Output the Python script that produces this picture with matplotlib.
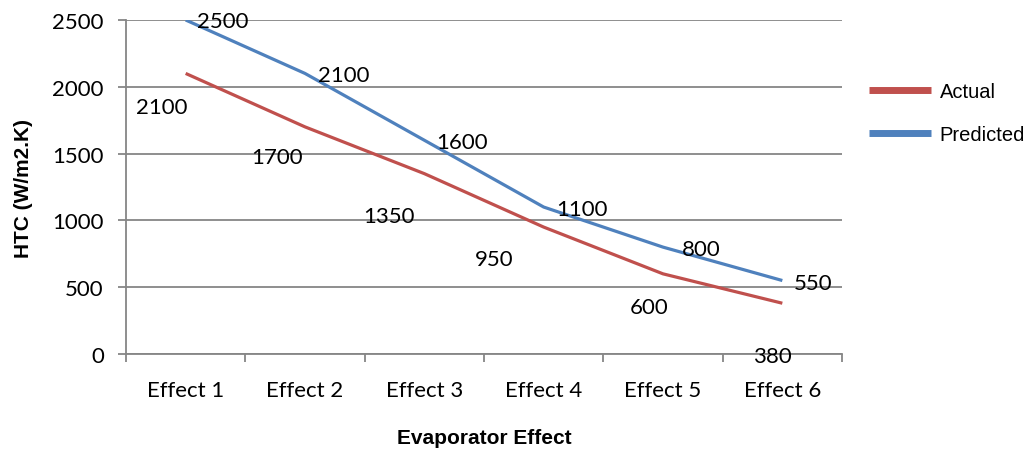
import matplotlib
matplotlib.use("Agg")
import matplotlib.pyplot as plt

categories = ["Effect 1", "Effect 2", "Effect 3", "Effect 4", "Effect 5", "Effect 6"]
actual = [2100, 1700, 1350, 950, 600, 380]
predicted = [2500, 2100, 1600, 1100, 800, 550]
y_ticks = [0, 500, 1000, 1500, 2000, 2500]

# label offsets (pixels -> points at dpi 100), styling only
act_off = [(-24, -34), (-28, -30), (-35, -42), (-49, -32), (-14, -33), (-10, -53)]
pred_off = [(37, -1), (39, -2), (38, -2), (38, -2), (38, -2), (31, -2)]

RED = "#C0504D"
BLUE = "#4F81BD"
GRID = "#868686"
tick_font = "Lato"
ax_font = "Liberation Sans"
FS = 16

fig = plt.figure(figsize=(10.27, 4.52), dpi=100)
ax = fig.add_axes([126/1027, 1-355/452, (842-126)/1027, (355-21)/452])

x = list(range(len(categories)))
ax.plot(x, actual, color=RED, lw=2.3, label="Actual", solid_capstyle="butt", zorder=3)
ax.plot(x, predicted, color=BLUE, lw=2.3, label="Predicted", solid_capstyle="butt", zorder=3)

px2pt = 72/100
for i, v in enumerate(actual):
    dx, dy = act_off[i]
    ax.annotate(str(v), (x[i], v), xytext=(dx*px2pt, dy*px2pt), textcoords="offset points",
                ha="center", va="center", fontsize=FS, family=tick_font, color="black",
                annotation_clip=False, zorder=4)
for i, v in enumerate(predicted):
    dx, dy = pred_off[i]
    ax.annotate(str(v), (x[i], v), xytext=(dx*px2pt, dy*px2pt), textcoords="offset points",
                ha="center", va="center", fontsize=FS, family=tick_font, color="black",
                annotation_clip=False, zorder=4)

ax.set_xlim(-0.5, len(categories)-0.5)
ax.set_ylim(0, 2500)
ax.set_yticks(y_ticks)
ax.set_yticklabels([str(t) for t in y_ticks], fontsize=FS, family=tick_font)
ax.set_xticks(x)
ax.set_xticklabels(categories, fontsize=FS, family=tick_font)
ax.set_xticks([i-0.5 for i in range(len(categories)+1)], minor=True)
ax.tick_params(axis="x", which="major", length=0, pad=19)
ax.tick_params(axis="x", which="minor", length=6, width=1.3, color=GRID, direction="out")
ax.tick_params(axis="y", length=6, width=1.3, color=GRID, direction="out", pad=10)

ax.grid(axis="y", color=GRID, lw=1.3)
ax.set_axisbelow(True)
for s in ["top", "right"]:
    ax.spines[s].set_visible(False)
for s in ["left", "bottom"]:
    ax.spines[s].set_color(GRID)
    ax.spines[s].set_linewidth(1.3)

ax.set_xlabel("Evaporator Effect", fontsize=15, family=ax_font, fontweight="bold", labelpad=20)
ax.set_ylabel("HTC (W/m2.K)", fontsize=15, family=ax_font, fontweight="bold", labelpad=14)

leg = fig.legend(loc="center left", bbox_to_anchor=(869/1027, 1-114/452), frameon=False,
                 borderpad=0, borderaxespad=0, handlelength=3.1, handletextpad=0.4,
                 labelspacing=1.15, prop={"family": ax_font, "size": 14.5})
for h in leg.get_lines():
    h.set_linewidth(5)

fig.savefig("out.png", dpi=100)
